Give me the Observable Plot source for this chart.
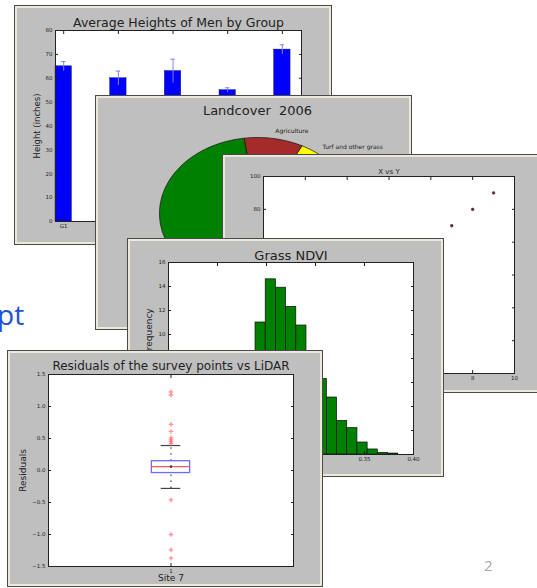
<!DOCTYPE html>
<html><head><meta charset="utf-8">
<script src="https://cdn.jsdelivr.net/npm/d3@7"></script>
<script src="https://cdn.jsdelivr.net/npm/@observablehq/plot@0.6"></script>
<style>
body{margin:0;background:#fff;}
#stage{position:relative;width:537px;height:588px;overflow:hidden;background:#fff;}
.panel{position:absolute;background:#bfbfbf;box-sizing:border-box;border:1px solid #4a4a4a;box-shadow:inset 0 0 0 2px #ece9db;}
.panel svg{position:absolute;left:-1px;top:-1px;}
</style></head><body><div id="stage"></div>
<script>
// ---------- Panel 1: bar chart ----------
const groups = ["G1", "G2", "G3", "G4", "G5"];
const groupPos = [0, 1, 2, 3, 4];
const menMeans = [65, 60, 63, 55, 72];
const menStd = [2, 3, 5, 1, 2];
const barWidth = 0.3;
const heightTicks = [0, 10, 20, 30, 40, 50, 60, 70, 80];

// ---------- Panel 2: pie ----------
const landLabels = ["Developed", "Turf and other grass", "Agriculture", "Forest", "Water"];
const landShares = [11.9, 5.6, 9.7, 64.4, 8.4];
const landColors = ["#ff0000", "#ffff00", "#a52a2a", "#008000", "#0000ff"];

// ---------- Panel 3: scatter ----------
const xyX = [7, 8, 9];
const xyY = [70, 80, 90];
const xyXTicks = [-2, 0, 2, 4, 6, 8, 10];
const xyYTicks = [-20, 0, 20, 40, 60, 80, 100];

// ---------- Panel 4: histogram ----------
const ndviEdges = [0.2388, 0.2492, 0.2596, 0.2700, 0.2804, 0.2908, 0.3012, 0.3116, 0.3220, 0.3324, 0.3428, 0.3532, 0.3636, 0.3740, 0.3844];
const ndviFreq = [11.0, 14.6, 13.9, 12.3, 10.75, 8.4, 6.3, 4.75, 2.8, 2.2, 1.0, 0.42, 0.14, 0.08];
const ndviXTicks = [0.15, 0.20, 0.25, 0.30, 0.35, 0.40];
const ndviYTicks = [0, 2, 4, 6, 8, 10, 12, 14, 16];

// ---------- Panel 5: box plot ----------
const resQ1 = -0.04, resMedian = 0.06, resQ3 = 0.145, resLow = -0.28, resHigh = 0.39;
const resFliers = [1.23, 1.18, 0.72, 0.61, 0.51, 0.48, 0.45, 0.42, -0.46, -1.0, -1.24, -1.37];
const resYTicks = [-1.5, -1.0, -0.5, 0, 0.5, 1.0, 1.5];

const FONT = "DejaVu Sans, sans-serif";
const stage = document.getElementById("stage");
const baseStyle = {background: "transparent", fontFamily: FONT, fontSize: "5.5px", color: "#222", maxWidth: "none", overflow: "visible"};

function addPanel(left, top, w, h, svg) {
  const div = document.createElement("div");
  div.className = "panel";
  Object.assign(div.style, {left: left + "px", top: top + "px", width: w + "px", height: h + "px"});
  div.appendChild(svg);
  stage.appendChild(div);
}

function mplAxes(xTicks, yTicks, xFormat, yFormat) {
  const tk = {tickSize: -3, label: null, fontSize: 5.5};
  return [
    Plot.axisX({...tk, ticks: xTicks, anchor: "bottom", tickPadding: 6, tickFormat: xFormat}),
    Plot.axisX({...tk, ticks: xTicks, anchor: "top", tickFormat: () => ""}),
    Plot.axisY({...tk, ticks: yTicks, anchor: "left", tickPadding: 6, tickFormat: yFormat}),
    Plot.axisY({...tk, ticks: yTicks, anchor: "right", tickFormat: () => ""})
  ];
}
function title(t, dy, fontSize) {
  return Plot.text([t], {frameAnchor: "top", dy, fontSize, fill: "#222", lineAnchor: "middle", textAnchor: "middle"});
}
function ylab(t, dx, fontSize) {
  return Plot.text([t], {frameAnchor: "left", dx, rotate: -90, fontSize, fill: "#222", lineAnchor: "middle", textAnchor: "middle"});
}

// Panel 1
{
  const data = groups.map((g, i) => ({g, pos: groupPos[i], v: menMeans[i], e: menStd[i]}));
  const svg = Plot.plot({
    width: 318, height: 240, marginLeft: 41, marginTop: 25, marginRight: 31, marginBottom: 24,
    style: baseStyle,
    x: {domain: [0, 4.5]},
    y: {domain: [0, 80]},
    marks: [
      Plot.frame({fill: "white"}),
      Plot.rectY(data, {x1: "pos", x2: d => d.pos + barWidth, y1: 0, y2: "v", fill: "#0000ff", stroke: "#000060", strokeWidth: 0.4}),
      Plot.ruleX(data, {x: d => d.pos + barWidth / 2, y1: d => d.v - d.e, y2: d => d.v + d.e, stroke: "#8080ff", strokeWidth: 1}),
      Plot.ruleY(data, {y: d => d.v + d.e, x1: d => d.pos + barWidth / 2 - 0.04, x2: d => d.pos + barWidth / 2 + 0.04, stroke: "#8080ff"}),
      ...mplAxes(groupPos.map(p => p + barWidth / 2), heightTicks, (d) => groups[Math.round(d - barWidth / 2)], d3.format("d")),
      Plot.frame({stroke: "#222"}),
      title("Average Heights of Men by Group", -8, 12.5),
      ylab("Height (inches)", -18, 8.5)
    ]
  });
  addPanel(14, 5, 318, 240, svg);
}

// Panel 2
{
  let acc = 0;
  const slices = landLabels.map((label, i) => {
    const a0 = acc / 100 * 360; acc += landShares[i]; const a1 = acc / 100 * 360;
    return {label, color: landColors[i], a0, a1, mid: (a0 + a1) / 2};
  });
  const pts = slices.flatMap(s => {
    const out = [{label: s.label, color: s.color, x: 0, y: 0}];
    const n = Math.max(2, Math.ceil((s.a1 - s.a0) / 2));
    for (let k = 0; k <= n; k++) {
      const a = (s.a0 + (s.a1 - s.a0) * k / n) * Math.PI / 180;
      out.push({label: s.label, color: s.color, x: Math.cos(a), y: Math.sin(a)});
    }
    out.push({label: s.label, color: s.color, x: 0, y: 0});
    return out;
  });
  const lab = slices.map(s => ({...s, lx: 1.1 * Math.cos(s.mid * Math.PI / 180), ly: 1.1 * Math.sin(s.mid * Math.PI / 180)}));
  const svg = Plot.plot({
    width: 317, height: 235, marginLeft: 64, marginRight: 57, marginTop: 42, marginBottom: 41,
    style: baseStyle,
    x: {domain: [-1, 1], axis: null},
    y: {domain: [-1, 1], axis: null},
    color: {type: "identity"},
    marks: [
      Plot.line(pts, {x: "x", y: "y", z: "label", fill: "color", stroke: "#111", strokeWidth: 0.7}),
      Plot.text(lab.filter(d => d.lx >= 0), {x: "lx", y: "ly", text: "label", textAnchor: "start", fontSize: 6, fill: "#222"}),
      Plot.text(lab.filter(d => d.lx < 0), {x: "lx", y: "ly", text: "label", textAnchor: "end", fontSize: 6, fill: "#222"}),
      title("Landcover\u00a0 2006", -27, 13)
    ]
  });
  addPanel(95, 95, 317, 235, svg);
}

// Panel 3
{
  const data = xyX.map((x, i) => ({x, y: xyY[i]}));
  const svg = Plot.plot({
    width: 325, height: 239, marginLeft: 41, marginTop: 22, marginRight: 33, marginBottom: 20,
    style: baseStyle,
    x: {domain: [-2, 10]},
    y: {domain: [-20, 100]},
    marks: [
      Plot.frame({fill: "white"}),
      Plot.dot(data, {x: "x", y: "y", r: 1.4, fill: "#7a1f2b", stroke: "#4a1018", strokeWidth: 0.4}),
      ...mplAxes(xyXTicks, xyYTicks, d3.format("d"), d3.format("d")),
      Plot.frame({stroke: "#222"}),
      title("X vs Y", -5, 7)
    ]
  });
  addPanel(222, 154, 325, 239, svg);
}

// Panel 4
{
  const bins = ndviFreq.map((v, i) => ({lo: ndviEdges[i], hi: ndviEdges[i + 1], v}));
  const svg = Plot.plot({
    width: 317, height: 239, marginLeft: 41, marginTop: 24, marginRight: 31, marginBottom: 23,
    style: baseStyle,
    x: {domain: [0.15, 0.40]},
    y: {domain: [0, 16]},
    marks: [
      Plot.frame({fill: "white"}),
      Plot.rectY(bins, {x1: "lo", x2: "hi", y1: 0, y2: "v", fill: "#008000", stroke: "#111", strokeWidth: 0.7}),
      ...mplAxes(ndviXTicks, ndviYTicks, d3.format(".2f"), d3.format("d")),
      Plot.frame({stroke: "#222"}),
      title("Grass NDVI", -7, 13),
      ylab("Normalized Frequency", -19, 9)
    ]
  });
  addPanel(127, 238, 317, 239, svg);
}

// Panel 5
{
  const bw = 0.078, cw = 0.04;
  const svg = Plot.plot({
    width: 316, height: 237, marginLeft: 41, marginTop: 24, marginRight: 30, marginBottom: 21,
    style: baseStyle,
    x: {domain: [0.5, 1.5]},
    y: {domain: [-1.5, 1.5]},
    marks: [
      Plot.frame({fill: "white"}),
      Plot.ruleX([1], {x: d => d, y1: resQ3, y2: resHigh, stroke: "#444", strokeDasharray: "1.5,4.5", strokeWidth: 1.2}),
      Plot.ruleX([1], {x: d => d, y1: resLow, y2: resQ1, stroke: "#444", strokeDasharray: "1.5,4.5", strokeWidth: 1.2}),
      Plot.ruleY([resHigh, resLow], {y: d => d, x1: 1 - cw, x2: 1 + cw, stroke: "#444", strokeWidth: 1.2}),
      Plot.rect([{}], {x1: 1 - bw, x2: 1 + bw, y1: resQ1, y2: resQ3, fill: "none", stroke: "#6a6aff", strokeWidth: 1.3}),
      Plot.ruleY([resMedian], {y: d => d, x1: 1 - bw, x2: 1 + bw, stroke: "#ff5a5a", strokeWidth: 1.2}),
      Plot.dot([resMedian], {x: () => 1, y: d => d, r: 1.3, fill: "#444"}),
      Plot.dot(resFliers, {x: () => 1, y: d => d, symbol: "plus", r: 1.6, stroke: "#ff4d4d", strokeOpacity: 0.6, strokeWidth: 1.3}),
      ...mplAxes([1], resYTicks, d3.format("d"), d3.format(".1f")),
      Plot.frame({stroke: "#222"}),
      title("Residuals of the survey points vs LiDAR", -8, 12),
      ylab("Residuals", -25, 9),
      Plot.text(["Site 7"], {frameAnchor: "bottom", dy: 12, fontSize: 9, fill: "#222", lineAnchor: "middle", textAnchor: "middle"})
    ]
  });
  addPanel(7, 350, 316, 237, svg);
}

// Slide decorations
{
  const t = document.createElement("div");
  t.textContent = "pt";
  Object.assign(t.style, {position: "absolute", left: "-3px", top: "300px", font: "28px 'Open Sans', sans-serif", lineHeight: "28px", color: "#2450d8"});
  stage.appendChild(t);
  const n = document.createElement("div");
  n.textContent = "2";
  Object.assign(n.style, {position: "absolute", left: "484px", top: "555px", font: "15px 'Open Sans', sans-serif", color: "#a8a8a8"});
  stage.appendChild(n);
}
</script>
</body></html>
